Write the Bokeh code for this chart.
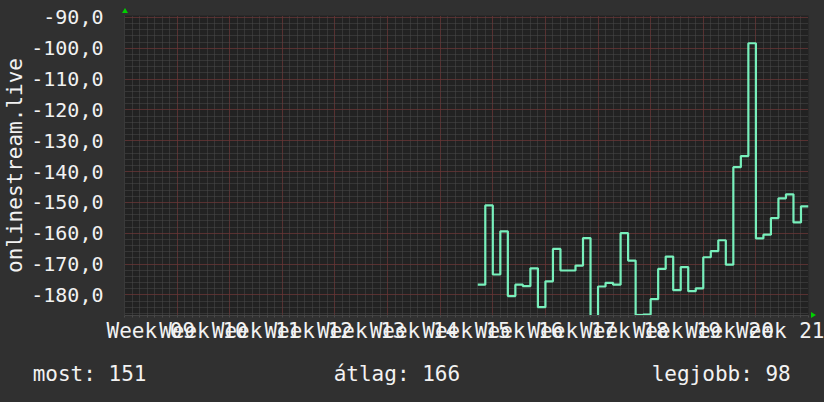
from bokeh.plotting import figure
from bokeh.layouts import column
from bokeh.models import FixedTicker, ColumnDataSource, Div
from bokeh.embed import file_html
from bokeh.resources import INLINE

# ---- data ----
week_labels = ["Week 09", "Week 10", "Week 11", "Week 12", "Week 13", "Week 14", "Week 15",
               "Week 16", "Week 17", "Week 18", "Week 19", "Week 20", "Week 21"]
first_day = 47  # first day with data, counted from the start of Week 09
values = [-176.7, -151.0, -173.4, -159.4, -180.4, -176.7, -177.2, -171.4, -184.0, -175.6,
          -165.1, -172.1, -172.1, -170.5, -161.6, -190.0, -177.3, -176.1, -176.7, -160.0,
          -168.9, -186.6, -186.4, -181.4, -171.6, -167.6, -178.5, -171.0, -178.8, -177.9,
          -167.8, -165.8, -162.3, -170.2, -138.6, -135.0, -98.4, -161.7, -160.5, -155.1,
          -148.7, -147.4, -156.5, -151.3]
y_ticks = [-180, -170, -160, -150, -140, -130, -120, -110, -100, -90]
y_tick_labels = ["-180,0", "-170,0", "-160,0", "-150,0", "-140,0", "-130,0", "-120,0",
                 "-110,0", "-100,0", "-90,0"]
y_axis_title = "onlinestream.live"
legend_texts = ["most: 151", "átlag: 166", "legjobb: 98"]

DAYS = 7
n_weeks = len(week_labels)
xs = [(first_day + i) / DAYS for i in range(len(values))] + [(first_day + len(values)) / DAYS]
ys = values + [values[-1]]
src = ColumnDataSource(data=dict(x=xs, y=ys))

FONT = "DejaVu Sans Mono"
TXT = "#f2f2f2"
BG = "#303030"
MAJ = "#7a2c2c"
MIN = "#4a4a4a"

p = figure(frame_width=684, frame_height=300, x_range=(0, n_weeks), y_range=(-186.7, -89.4),
           output_backend="svg", toolbar_location=None,
           min_border_left=124, min_border_right=16, min_border_top=15, min_border_bottom=30)
p.background_fill_color = "#222222"
p.border_fill_color = BG
p.outline_line_color = None

# y axis
minor_y = list(range(-186, -89, 2))
p.yaxis.ticker = FixedTicker(ticks=y_ticks, minor_ticks=minor_y)
p.yaxis.major_label_overrides = {t: l for t, l in zip(y_ticks, y_tick_labels)}
p.yaxis.axis_label = y_axis_title
p.yaxis.axis_label_text_font = FONT
p.yaxis.axis_label_text_font_size = "21px"
p.yaxis.axis_label_text_font_style = "normal"
p.yaxis.axis_label_text_color = TXT
p.yaxis.axis_label_standoff = 1
p.yaxis.major_label_text_font = FONT
p.yaxis.major_label_text_font_size = "20px"
p.yaxis.major_label_text_color = TXT
p.yaxis.major_label_standoff = 15
p.yaxis.major_tick_line_color = None
p.yaxis.minor_tick_line_color = None
p.yaxis.axis_line_color = "#3a3a3a"

# x axis: labels centred in each week
centers = [i + 0.5 for i in range(n_weeks)]
day_ticks = [d / DAYS for d in range(n_weeks * DAYS + 1)]
week_ticks = list(range(n_weeks + 1))
p.xaxis.ticker = FixedTicker(ticks=centers, minor_ticks=day_ticks)
p.xaxis.major_label_overrides = {c: l for c, l in zip(centers, week_labels)}
p.xaxis.major_label_text_font = FONT
p.xaxis.major_label_text_font_size = "21px"
p.xaxis.major_label_text_color = TXT
p.xaxis.major_label_standoff = -3
p.xaxis.major_tick_line_color = None
p.xaxis.minor_tick_line_color = MIN
p.xaxis.minor_tick_in = 0
p.xaxis.minor_tick_out = 2
p.xaxis.axis_line_color = "#444444"

# grids
p.xgrid.ticker = FixedTicker(ticks=week_ticks, minor_ticks=day_ticks)
p.ygrid.ticker = FixedTicker(ticks=y_ticks, minor_ticks=minor_y)
for g in (p.xgrid, p.ygrid):
    g.grid_line_color = MAJ
    g.grid_line_dash = "1 1"
    g.grid_line_width = 1
    g.minor_grid_line_color = MIN
    g.minor_grid_line_dash = "1 1"
    g.minor_grid_line_width = 1

p.step(x="x", y="y", source=src, mode="after", line_color="#78f0bc", line_width=2.2)

# legend line below the chart, plus the two small axis arrows (decoration)
lefts = [32.7, 333.7, 651.7]
spans = "".join(
    f'<span style="position:absolute;left:{lx}px;top:17px;line-height:24px;white-space:pre;">{t}</span>'
    for t, lx in zip(legend_texts, lefts))
arrows = ('<div style="position:absolute;left:122px;top:-337px;width:0;height:0;'
          'border-left:3px solid transparent;border-right:3px solid transparent;'
          'border-bottom:5px solid #00d000;"></div>'
          '<div style="position:absolute;left:811px;top:-33px;width:0;height:0;'
          'border-top:3px solid transparent;border-bottom:3px solid transparent;'
          'border-left:5px solid #00d000;"></div>')
leg = Div(text=f'<div style="position:relative;width:824px;height:57px;'
               f"font-family:'{FONT}';font-size:21px;color:{TXT};overflow:visible;\">{spans}{arrows}</div>",
          width=824, height=57, margin=0, styles={"background-color": BG, "overflow": "visible"})

layout = column(p, leg, spacing=0)
html = file_html(layout, INLINE)
html = html.replace("</head>", "<style>html,body{background-color:#303030;}</style></head>", 1)
open("out.html", "w").write(html)
